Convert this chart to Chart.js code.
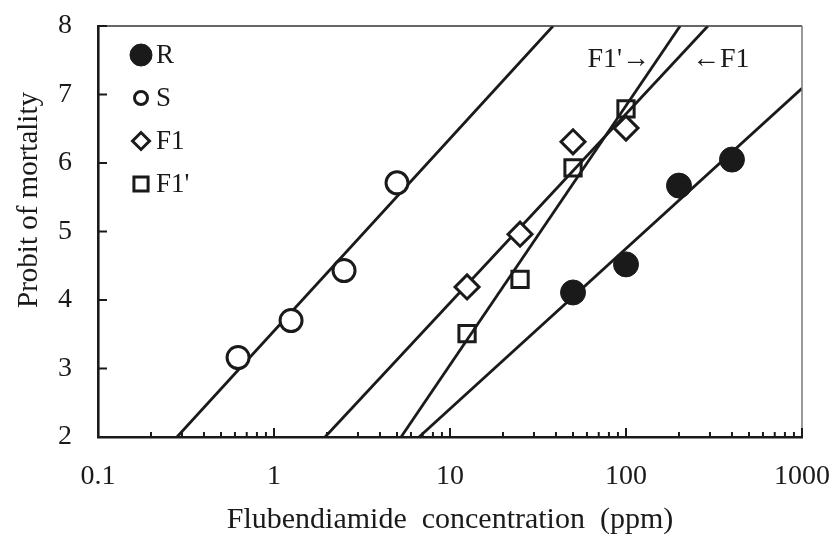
<!DOCTYPE html>
<html>
<head>
<meta charset="utf-8">
<script src="https://cdn.jsdelivr.net/npm/chart.js@4.4.1/dist/chart.umd.min.js"></script>
<style>
    html, body { margin: 0; padding: 0; background: #fff; }
    #wrap { width: 839px; height: 540px; }
</style>
</head>
<body>
<div id="wrap"><canvas id="chartProbit"></canvas></div>
<script>
'use strict';

// Observed probits per dose (ppm)
const doseR = [50, 100, 200, 400];
const probitR = [4.11, 4.52, 5.67, 6.05];
const doseS = [0.625, 1.25, 2.5, 5];
const probitS = [3.16, 3.70, 4.43, 5.71];
const doseF1 = [12.5, 25, 50, 100];
const probitF1 = [4.19, 4.96, 6.31, 6.51];
const doseF1p = [12.5, 25, 50, 100];
const probitF1p = [3.51, 4.30, 5.93, 6.79];

// Regression lines, end points
const fitDoseS = [0.281, 38.5];
const fitProbitS = [2, 8];
const fitDoseF1 = [1.95, 292];
const fitProbitF1 = [2, 8];
const fitDoseF1p = [5.27, 203];
const fitProbitF1p = [2, 8];
const fitDoseR = [6.67, 1000];
const fitProbitR = [2, 7.09];

// Axis
const xDecades = [0.1, 1, 10, 100, 1000];
const xMinorSteps = [1, 2, 3, 4, 5, 6, 7, 8, 9];
const legendLabels = ['R', 'S', 'F1', "F1'"];

const INK = '#1a1a1a';
const FONT = "'Liberation Serif', 'Times New Roman', serif";

const pts = (xs, ys) => xs.map((x, i) => ({ x: x, y: ys[i] }));
const isDecade = v => Math.abs(Math.log10(v) - Math.round(Math.log10(v))) < 1e-6;

function fitLine(xs, ys) {
    return {
        type: 'line', data: pts(xs, ys), showLine: true,
        borderColor: INK, borderWidth: 2.8, pointRadius: 0, order: 2
    };
}

function markers(xs, ys, style, radius, fill, bw) {
    return {
        type: 'scatter', data: pts(xs, ys), pointStyle: style,
        pointRadius: radius, pointHoverRadius: radius,
        pointBackgroundColor: fill, pointBorderColor: INK,
        pointBorderWidth: bw, order: 1
    };
}

// no extra room for the end labels: the plot box is fixed by layout padding
function noScalePadding(scale) {
    scale.paddingLeft = 0;
    scale.paddingRight = 0;
    scale.paddingTop = 0;
    scale.paddingBottom = 0;
}

/* ticks inward, frame, legend, annotations, y title */
const decorPlugin = {
    id: 'decor',
    afterDraw(chart) {
        const ctx = chart.ctx;
        const a = chart.chartArea;
        const x = chart.scales.x;
        const y = chart.scales.y;
        ctx.save();

        // top and right borders
        ctx.lineWidth = 1.5;
        ctx.strokeStyle = '#333';
        ctx.beginPath();
        ctx.moveTo(a.left, a.top); ctx.lineTo(a.right, a.top);
        ctx.stroke();
        ctx.strokeStyle = '#777';
        ctx.beginPath();
        ctx.moveTo(a.right, a.top); ctx.lineTo(a.right, a.bottom);
        ctx.stroke();

        // inside ticks
        ctx.strokeStyle = INK;
        ctx.lineWidth = 2;
        ctx.beginPath();
        x.ticks.forEach(t => {
            const px = x.getPixelForValue(t.value);
            const len = isDecade(t.value) ? 9 : 5;
            ctx.moveTo(px, a.bottom); ctx.lineTo(px, a.bottom - len);
        });
        y.ticks.forEach(t => {
            const py = y.getPixelForValue(t.value);
            ctx.moveTo(a.left, py); ctx.lineTo(a.left + 9, py);
        });
        ctx.stroke();

        // legend in the plot
        const markerSets = chart.data.datasets.filter(d => d.type === 'scatter');
        const legendSizes = [11, 6.5, 8.5, 10];
        ctx.font = '27px ' + FONT;
        ctx.textBaseline = 'middle';
        ctx.textAlign = 'left';
        legendLabels.forEach((lab, i) => {
            const ds = markerSets[i];
            const cy = a.top + 29 + i * 43;
            ctx.fillStyle = ds.pointBackgroundColor;
            ctx.strokeStyle = INK;
            ctx.lineWidth = ds.pointBorderWidth;
            Chart.helpers.drawPoint(ctx, {
                pointStyle: ds.pointStyle, radius: legendSizes[i],
                borderWidth: ds.pointBorderWidth, rotation: 0
            }, a.left + 43, cy);
            ctx.fillStyle = INK;
            ctx.fillText(lab, a.left + 58, cy + 1);
        });

        // arrows pointing at the F1' and F1 lines
        ctx.font = '28px ' + FONT;
        ctx.textBaseline = 'alphabetic';
        const ay = y.getPixelForValue(7.40);
        ctx.textAlign = 'right';
        ctx.fillText("F1'\u2192", x.getPixelForValue(137), ay);
        ctx.textAlign = 'left';
        ctx.fillText('\u2190F1', x.getPixelForValue(237), ay);

        // y axis title
        ctx.font = '29px ' + FONT;
        ctx.textAlign = 'center';
        ctx.translate(37, 200);
        ctx.rotate(-Math.PI / 2);
        ctx.fillText('Probit of mortality', 0, 0);
        ctx.restore();
    }
};

new Chart(document.getElementById('chartProbit'), {
    type: 'scatter',
    data: {
        datasets: [
            fitLine(fitDoseS, fitProbitS),
            fitLine(fitDoseF1, fitProbitF1),
            fitLine(fitDoseF1p, fitProbitF1p),
            fitLine(fitDoseR, fitProbitR),
            markers(doseR, probitR, 'circle', 12.5, INK, 1),
            markers(doseS, probitS, 'circle', 11, '#fff', 3),
            markers(doseF1, probitF1, 'rectRot', 12, '#fff', 3),
            markers(doseF1p, probitF1p, 'rect', 11.5, 'rgba(255,255,255,0)', 3)
        ]
    },
    options: {
        animation: false,
        responsive: true,
        maintainAspectRatio: false,
        layout: { padding: { top: 26, right: 37, left: 0, bottom: 0 } },
        plugins: {
            legend: { display: false },
            tooltip: { enabled: false }
        },
        scales: {
            x: {
                type: 'logarithmic',
                min: 0.1,
                max: 1000,
                afterBuildTicks: scale => {
                    const list = [];
                    xDecades.forEach((d, i) => {
                        if (i < xDecades.length - 1) {
                            xMinorSteps.forEach(k => list.push({ value: +(d * k).toPrecision(3) }));
                        } else {
                            list.push({ value: d });
                        }
                    });
                    scale.ticks = list;
                },
                afterFit: scale => { scale.height = 103; noScalePadding(scale); },
                grid: { display: false, drawTicks: false },
                border: { display: true, color: INK, width: 2.6 },
                ticks: {
                    autoSkip: false,
                    maxRotation: 0,
                    padding: 23,
                    color: INK,
                    font: { family: FONT, size: 28 },
                    callback: v => isDecade(v) ? String(Number(v.toPrecision(3))) : ''
                },
                title: {
                    display: true,
                    text: 'Flubendiamide  concentration  (ppm)',
                    color: INK,
                    font: { family: FONT, size: 30 },
                    padding: { top: 0, bottom: 2 }
                }
            },
            y: {
                min: 2,
                max: 8,
                afterFit: scale => { scale.width = 98; noScalePadding(scale); },
                grid: { display: false, drawTicks: false },
                border: { display: true, color: INK, width: 2.6 },
                ticks: {
                    stepSize: 1,
                    padding: 26,
                    color: INK,
                    font: { family: FONT, size: 28 }
                }
            }
        }
    },
    plugins: [decorPlugin]
});
</script>
</body>
</html>
